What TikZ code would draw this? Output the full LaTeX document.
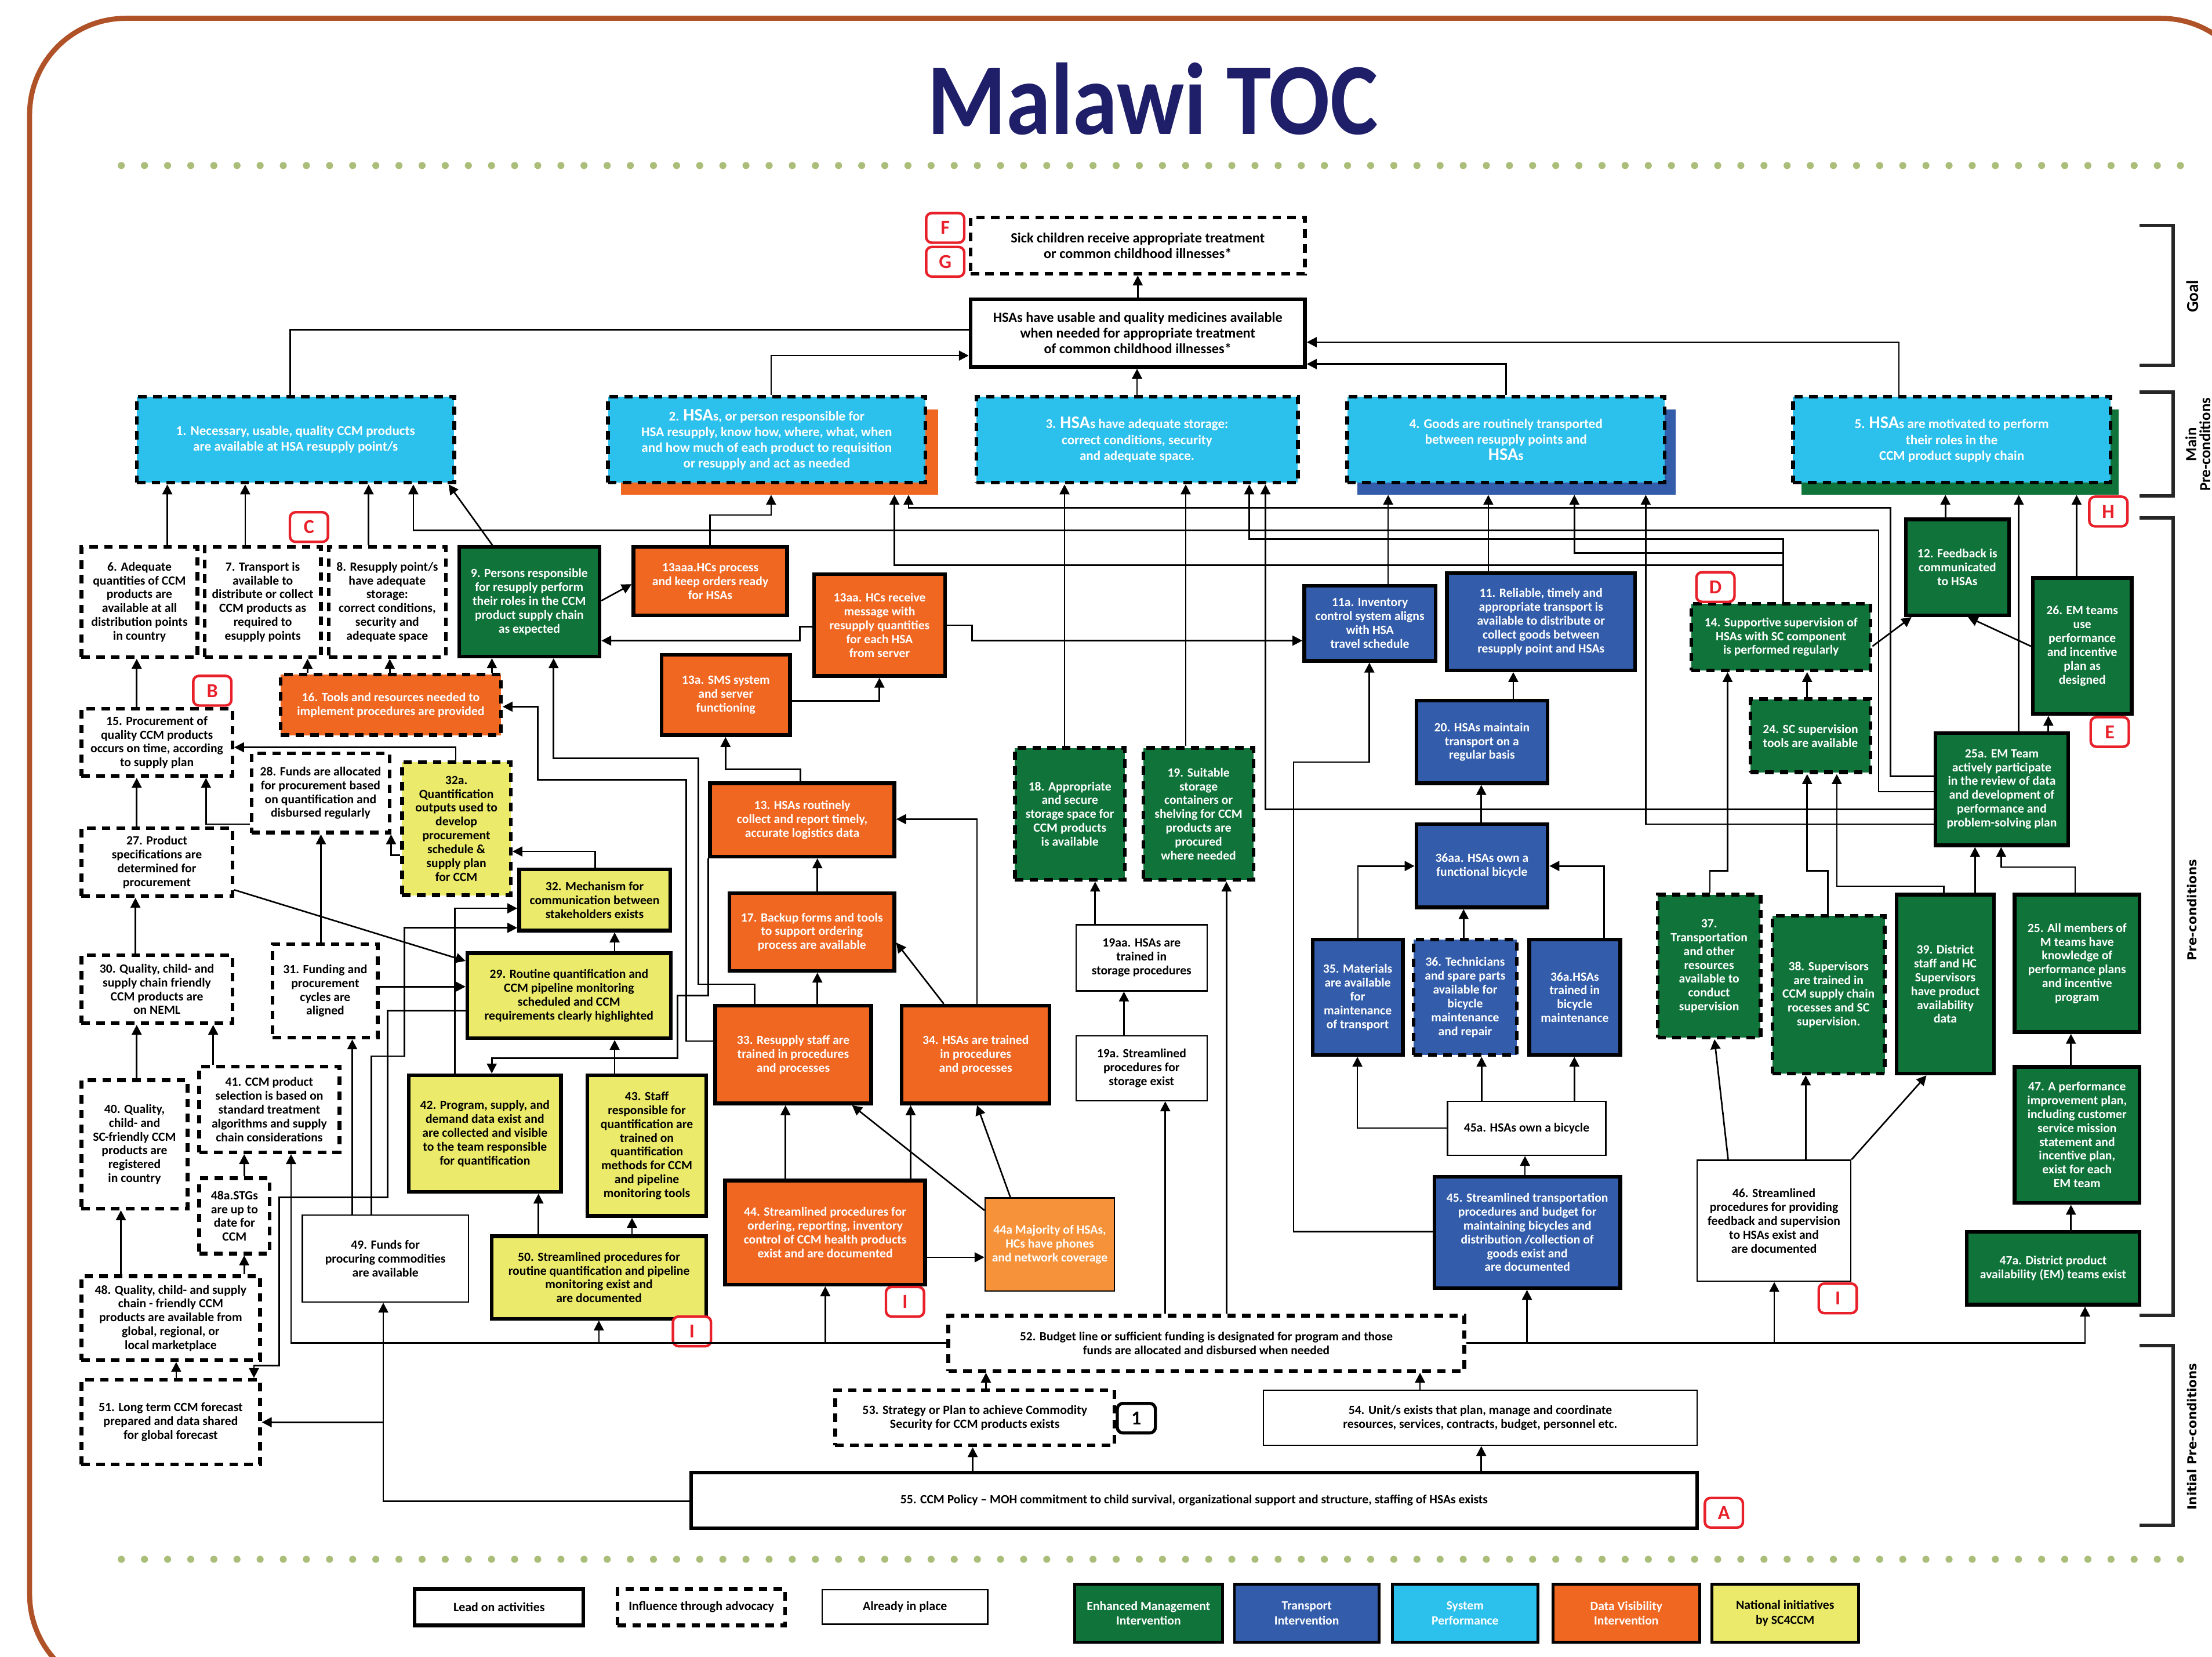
\documentclass[tikz,border=0pt]{standalone}
\usepackage{fontspec}
\usepackage{graphicx}
\setmainfont{Carlito}
\newfontfamily\dvs{DejaVu Sans}
\usetikzlibrary{arrows.meta}
\definecolor{cgreen}{RGB}{16,115,58}
\definecolor{cblue}{RGB}{51,93,170}
\definecolor{ccyan}{RGB}{44,192,236}
\definecolor{corange}{RGB}{240,103,34}
\definecolor{cyellow}{RGB}{235,234,106}
\definecolor{clorange}{RGB}{246,146,58}
\definecolor{cred}{RGB}{232,32,42}
\definecolor{cnavy}{RGB}{30,30,105}
\definecolor{cbrown}{RGB}{176,82,40}
\definecolor{cdot}{RGB}{170,190,122}
\tikzset{
  nbox/.style={rectangle, align=center, inner sep=1pt, font=\bfseries\fontsize{8.9}{9.8}\selectfont},
  lead/.style={nbox, draw=black, line width=2.6pt},
  adv/.style={nbox, draw=black, line width=2.6pt, dash pattern=on 6pt off 4.5pt},
  inpl/.style={nbox, draw=black, line width=1pt},
  gr/.style={fill=cgreen, text=white},
  bl/.style={fill=cblue, text=white},
  cy/.style={fill=ccyan, text=white},
  og/.style={fill=corange, text=white},
  yl/.style={fill=cyellow, text=black},
  wh/.style={fill=white, text=black},
  lo/.style={fill=clorange, text=white},
  arr/.style={line width=1.1pt, -{Triangle[width=7pt,length=7pt]}},
  ln/.style={line width=1.1pt},
  lbl/.style={draw=cred, line width=1.8pt, rounded corners=4pt, fill=white, text=cred, font=\bfseries\fontsize{14}{14}\selectfont, inner sep=0pt, minimum width=27pt, minimum height=21pt},
  brk/.style={line width=2.4pt, black!85},
}
\newcommand\bx[7]{%
  \pgfmathsetmacro\bxw{#5-#3}%
  \pgfmathsetmacro\bxh{#6-#4}%
  \pgfmathsetmacro\bxx{(#3+#5)/2}%
  \pgfmathsetmacro\bxy{(#4+#6)/2}%
  \node[#2, minimum width=\bxw pt, minimum height=\bxh pt] (#1) at (\bxx,\bxy) {#7};}
\newcommand\varr[3]{\draw[arr] (#1.north -| #3,0) -- (#2.south -| #3,0);}
\newcommand\hsa{{\fontsize{12.5}{12}\selectfont HSA}s}
\def\mf{\bfseries\fontsize{9.5}{11.2}\selectfont}
\def\gf{\bfseries\fontsize{10}{11}\selectfont}
\begin{document}
\begin{tikzpicture}[x=1pt,y=-1pt]
\useasboundingbox (0,0) rectangle (1568,1174);
\begin{scope}
\clip (0,0) rectangle (1568,1174);
\draw[cbrown, line width=3.6pt, rounded corners=68pt] (21,13) rectangle (1600,1198);
\end{scope}
\node[font=\bfseries\fontsize{64}{64}\selectfont, text=cnavy, inner sep=0pt] (title) at (817,70) {\scalebox{1}[1.13]{Malawi TOC}};
\draw[cdot, line width=5pt, line cap=round, dash pattern=on 0pt off 16.4pt] (86,117.3) -- (1552,117.3);
\draw[cdot, line width=5pt, line cap=round, dash pattern=on 0pt off 16.4pt] (86,1105) -- (1552,1105);
% brackets
\draw[brk] (1516.4,159.7) -- (1540.6,159.7) -- (1540.6,259) -- (1516.4,259);
\draw[brk] (1516.4,277.7) -- (1540.6,277.7) -- (1540.6,351.5) -- (1516.4,351.5);
\draw[brk] (1516.4,367) -- (1540.6,367) -- (1540.6,932) -- (1516.4,932);
\draw[brk] (1516.4,953.5) -- (1540.6,953.5) -- (1540.6,1081) -- (1516.4,1081);
\node[rotate=90, font=\bfseries\fontsize{12}{12}\selectfont] (tGoal) at (1554,210) {Goal};
\node[rotate=90, align=center, font=\bfseries\fontsize{11}{10}\selectfont] (tMain) at (1558,315) {Main\\Pre-conditions};
\node[rotate=90, font=\dvs\bfseries\fontsize{8.8}{9}\selectfont] (tPre) at (1554,645) {Pre-conditions};
\node[rotate=90, font=\dvs\bfseries\fontsize{8.8}{9}\selectfont] (tIni) at (1554,1018) {Initial Pre-conditions};
% goal
\bx{G0}{adv,wh,font=\gf}{688}{154}{925}{194}{Sick children receive appropriate treatment\\or common childhood illnesses*}
\bx{G1}{lead,wh,font=\gf}{688}{212}{925}{260}{HSAs have usable and quality medicines available\\when needed for appropriate treatment\\of common childhood illnesses*}
% main
\bx{M2s}{fill=corange}{440}{290}{665}{350.5}{}
\bx{M4s}{fill=cblue}{962}{290}{1188}{350.5}{}
\bx{M5s}{fill=cgreen}{1277}{290}{1502}{350.5}{}
\bx{M1}{adv,cy,font=\mf}{97}{281}{322}{342}{1. Necessary, usable, quality CCM products\\are available at HSA resupply point/s}
\bx{M2}{adv,cy,font=\mf}{431}{281}{656}{342}{2. \hsa, or person responsible for\\HSA resupply,  know how, where, what, when\\and how much of each product to requisition\\or  resupply and act as needed}
\bx{M3}{adv,cy,font=\mf}{692}{281}{920}{342}{3. \hsa\ have adequate storage:\\correct conditions, security\\and adequate space.}
\bx{M4}{adv,cy,font=\mf}{955}{281}{1180}{342}{4. Goods are routinely transported\\between resupply points and\\{\fontsize{12.5}{12}\selectfont HSA}s}
\bx{M5}{adv,cy,font=\mf}{1271}{281}{1496}{342}{5. \hsa\ are motivated to perform\\their roles  in the\\CCM product supply chain}
% preconditions
\bx{n6}{adv,wh}{57.7}{387.6}{140}{465.6}{6. Adequate\\quantities of CCM\\products are\\available at all\\distribution points\\in country}
\bx{n7}{adv,wh}{145}{387.6}{227.5}{465.6}{7. Transport is\\available to\\distribute or collect\\CCM products as\\required to\\esupply points}
\bx{n8}{adv,wh}{233}{387.6}{316}{465.6}{8. Resupply point/s\\have adequate\\storage:\\correct conditions,\\security and\\adequate space}
\bx{n9}{lead,gr}{325.4}{387.6}{425}{465.2}{9. Persons responsible\\for resupply perform\\their roles in the CCM\\product supply chain\\as expected}
\bx{n13aaa}{lead,og}{449}{387.6}{558}{436.2}{13aaa.HCs process\\and keep orders ready\\for HSAs}
\bx{n13aa}{lead,og}{577}{407}{670}{479}{13aa. HCs receive\\message with\\resupply quantities\\for each HSA\\from server}
\bx{n13a}{lead,og}{469}{464}{560}{521}{13a. SMS system\\and server\\functioning}
\bx{n11a}{lead,bl}{924.5}{415}{1017.6}{468.3}{11a. Inventory\\control system aligns\\with HSA\\travel schedule}
\bx{n11}{lead,bl}{1025.7}{406}{1159}{475}{11. Reliable, timely and\\appropriate  transport is\\available to distribute or\\collect goods between\\resupply point and HSAs}
\bx{n14}{adv,gr}{1199}{427.8}{1326}{475}{14. Supportive supervision of\\HSAs with SC component\\is performed regularly}
\bx{n12}{lead,gr}{1351}{368}{1424}{436}{12. Feedback  is\\communicated\\to HSAs}
\bx{n26}{lead,gr}{1441}{409.6}{1511}{506}{26. EM teams\\use\\performance\\and incentive\\plan as\\designed}
\bx{n16}{adv,og}{199}{478}{355}{521}{16. Tools and resources needed to\\implement procedures are provided}
\bx{n15}{adv,wh}{57.7}{502.3}{164.7}{550}{15. Procurement of\\quality CCM products\\occurs on time, according\\to supply plan}
\bx{n28}{adv,wh}{178.3}{534}{276.2}{590}{28. Funds are allocated\\for procurement based\\on quantification and\\disbursed regularly}
\bx{n32a}{adv,yl}{285}{540}{362}{634.4}{32a.\\Quantification\\outputs used to\\develop\\procurement\\schedule \&\\supply plan\\for CCM}
\bx{n27}{adv,wh}{57.7}{587}{164.7}{635}{27. Product\\specifications are\\determined for\\procurement}
\bx{n32}{lead,yl}{368}{616}{475}{659.5}{32. Mechanism for\\communication between\\stakeholders exists}
\bx{n13}{lead,og}{503.3}{555}{634}{607}{13. HSAs routinely\\collect and report timely,\\accurate logistics data}
\bx{n17}{lead,og}{517}{633}{634}{688}{17. Backup forms and tools\\to support ordering\\process are available}
\bx{n18}{adv,gr}{719.4}{530}{797.4}{623.5}{18. Appropriate\\and secure\\storage space for\\CCM products\\is available}
\bx{n19}{adv,gr}{810.6}{530}{888.6}{623.5}{19. Suitable\\storage\\containers or\\shelving for CCM\\products are\\procured\\where needed}
\bx{n20}{lead,bl}{1004}{496.6}{1097}{555}{20. HSAs maintain\\transport on a\\regular basis}
\bx{n24}{adv,gr}{1240.7}{495.5}{1326}{547.3}{24. SC supervision\\tools are available}
\bx{n25a}{lead,gr}{1372}{519.4}{1466}{599}{25a. EM Team\\actively participate\\in the review of data\\and development of\\performance and\\problem-solving plan}
\bx{n36aa}{lead,bl}{1004}{584}{1097}{643}{36aa. HSAs own a\\functional bicycle}
\bx{n30}{adv,wh}{57.7}{677}{164.7}{725}{30. Quality, child- and\\supply chain friendly\\CCM products are\\on NEML}
\bx{n31}{adv,wh}{193.3}{669}{267.8}{735.3}{31. Funding and\\procurement\\cycles are\\aligned}
\bx{n29}{lead,yl}{331.3}{675.5}{475.4}{735.7}{29. Routine quantification and\\CCM pipeline monitoring\\scheduled and CCM\\requirements clearly highlighted}
\bx{n19aa}{inpl,wh}{762.8}{655.4}{855.6}{702.2}{19aa. HSAs are\\trained in\\storage procedures}
\bx{n19a}{inpl,wh}{762.8}{734}{855.6}{780}{19a. Streamlined\\procedures for\\storage exist}
\bx{n33}{lead,og}{507}{712.7}{617.5}{782}{33. Resupply staff are\\trained in procedures\\and processes}
\bx{n34}{lead,og}{639.2}{712.7}{744}{782}{34. HSAs are trained\\in procedures\\and processes}
\bx{n35}{lead,bl}{930.4}{665.9}{994.4}{747.6}{35. Materials\\are available\\for\\maintenance\\of  transport}
\bx{n36}{adv,bl}{1002}{665.9}{1075.2}{747.6}{36. Technicians\\and spare parts\\available for\\bicycle\\maintenance\\and repair}
\bx{n36a}{lead,bl}{1084}{665.9}{1148.5}{747.6}{36a.HSAs\\trained in\\bicycle\\maintenance}
\bx{n37}{adv,gr}{1175}{634}{1248}{735.2}{37.\\Transportation\\and other\\resources\\available to\\conduct\\supervision}
\bx{n38}{adv,gr}{1256.4}{649}{1336}{760.8}{38. Supervisors\\are trained in\\CCM supply chain\\rocesses and SC\\supervision.}
\bx{n39}{lead,gr}{1344.5}{634}{1413.4}{760.8}{39. District\\staff and HC\\Supervisors\\have product\\availability\\data}
\bx{n25}{lead,gr}{1428}{634}{1516.7}{731.4}{25. All members of\\M teams have\\knowledge of\\performance plans\\and incentive\\program}
\bx{n47}{lead,gr}{1428}{756}{1516.7}{852.5}{47. A performance\\improvement plan,\\including customer\\service mission\\statement and\\incentive plan,\\exist for each\\EM team}
\bx{n47a}{lead,gr}{1394}{873}{1516.7}{924.6}{47a. District product\\availability (EM) teams exist}
\bx{n40}{adv,wh}{57.7}{765.5}{133}{856.4}{40. Quality,\\child- and\\SC-friendly CCM\\products are\\registered\\in country}
\bx{n41}{adv,wh}{141.2}{755.8}{240.6}{816.6}{41. CCM product\\selection is based on\\standard treatment\\algorithms and supply\\chain considerations}
\bx{n48a}{adv,wh}{141.2}{835}{191.2}{888.4}{48a.STGs\\are up to\\date for\\CCM}
\bx{n42}{lead,yl}{289.8}{762}{397.7}{844.6}{42. Program, supply, and\\demand data exist and\\are collected and visible\\to the team responsible\\for quantification}
\bx{n43}{lead,yl}{416.3}{762}{500.7}{861.7}{43. Staff\\responsible for\\quantification  are\\trained on\\quantification\\methods for CCM\\and pipeline\\monitoring tools}
\bx{n48}{adv,wh}{57.7}{904.4}{184.3}{963.9}{48. Quality, child- and supply\\chain - friendly CCM\\products are available from\\global, regional, or\\local marketplace}
\bx{n49}{inpl,wh}{214.4}{861.1}{332}{922.7}{49. Funds for\\procuring commodities\\are available}
\bx{n50}{lead,yl}{348.5}{876}{500.7}{934.5}{50. Streamlined procedures for\\routine quantification and pipeline\\monitoring exist and\\are documented}
\bx{n44}{lead,og}{514}{836.6}{655.8}{910.3}{44. Streamlined procedures for\\ordering, reporting, inventory\\control of CCM health products\\exist and are documented}
\bx{n44a}{inpl,lo}{698.3}{849}{790}{915}{44a Majority of HSAs,\\HCs have phones\\and network coverage}
\bx{n45a}{inpl,wh}{1026}{780.4}{1138.3}{818.7}{45a. HSAs own a bicycle}
\bx{n45}{lead,bl}{1016.8}{833.8}{1148.5}{912.8}{45. Streamlined transportation\\procedures  and budget for\\maintaining bicycles and\\distribution /collection of\\goods exist and\\are documented}
\bx{n46}{inpl,wh}{1203}{822.2}{1312}{908}{46. Streamlined\\procedures for providing\\feedback and supervision\\to HSAs exist and\\are documented}
\bx{n51}{adv,wh}{57.7}{977.8}{184.3}{1037.8}{51. Long term CCM forecast\\prepared and data shared\\for global forecast}
\bx{n52}{adv,wh,font=\bfseries\fontsize{8.8}{9.8}\selectfont}{672.2}{932.4}{1038}{971.5}{52. Budget line or sufficient funding is designated for program and those\\funds are allocated and disbursed when needed}
\bx{n53}{adv,wh,font=\bfseries\fontsize{9}{9.8}\selectfont}{592}{985.2}{790}{1024.3}{53. Strategy or Plan to achieve Commodity\\Security for CCM products exists}
\bx{n54}{inpl,wh,font=\bfseries\fontsize{8.9}{9.8}\selectfont}{895.5}{985.2}{1203}{1024.3}{54. Unit/s exists that plan, manage and coordinate\\resources, services, contracts, budget, personnel etc.}
\bx{n55}{lead,wh,font=\bfseries\fontsize{8.9}{9.8}\selectfont}{489.8}{1043.6}{1203}{1083}{55. CCM Policy -- MOH commitment to child survival, organizational support and structure, staffing of HSAs exists}
% labels
\node[lbl] (lF) at (670,161.5) {F};
\node[lbl] (lG) at (670,185.5) {G};
\node[lbl] (lC) at (219,373.5) {C};
\node[lbl] (lB) at (150.5,489.5) {B};
\node[lbl] (lD) at (1216,416) {D};
\node[lbl] (lE) at (1495.5,518.7) {E};
\node[lbl] (lH) at (1494.5,362.5) {H};
\node[lbl] (lA) at (1222,1072) {A};
\node[lbl] (lI1) at (490.5,943.5) {I};
\node[lbl] (lI2) at (641.5,922.5) {I};
\node[lbl] (lI3) at (1302.7,920.1) {I};
\node[lbl, draw=black, text=black, line width=2.2pt] (l1) at (805.5,1005) {1};
% legend
\bx{L1}{lead,wh,font=\bfseries\fontsize{9}{9}\selectfont}{294}{1126}{413.6}{1151.8}{Lead on activities}
\bx{L2}{adv,wh,font=\bfseries\fontsize{9}{9}\selectfont}{437.7}{1126}{556.6}{1151.8}{Influence through advocacy}
\bx{L3}{inpl,wh,font=\bfseries\fontsize{9}{9}\selectfont}{582.8}{1126.5}{700.2}{1151}{Already in place}
\bx{L4}{lead,gr,line width=2pt,font=\bfseries\fontsize{8.9}{10.4}\selectfont}{761.8}{1122.8}{866.5}{1163.6}{Enhanced Management\\Intervention}
\bx{L5}{lead,bl,line width=2pt,font=\bfseries\fontsize{8.9}{10.4}\selectfont}{875}{1122.8}{977.6}{1163.6}{Transport\\Intervention}
\bx{L6}{lead,cy,line width=2pt,font=\bfseries\fontsize{8.9}{10.4}\selectfont}{986.9}{1122.8}{1090.2}{1163.6}{System\\Performance}
\bx{L7}{lead,og,line width=2pt,font=\bfseries\fontsize{8.9}{10.4}\selectfont}{1100.8}{1122.8}{1204.8}{1163.6}{Data Visibility\\Intervention}
\bx{L8}{lead,yl,line width=2pt,font=\bfseries\fontsize{8.9}{10.4}\selectfont}{1213.4}{1122.8}{1317.4}{1163.6}{National initiatives\\by SC4CCM}
% ---------- connectors ----------
\draw[arr] (G1.north) -- (G0.south);
\draw[arr] (M3.north) -- (M3.north |- G1.south);
\draw[ln] (M1.north -| 205.6,0) |- (G1.west |- 0,233.6);
\draw[arr] (M2.north -| 546.6,0) |- (G1.west |- 0,252);
\draw[arr] (M4.north -| 1067.6,0) |- (G1.east |- 0,258);
\draw[arr] (M5.north -| 1346,0) |- (G1.east |- 0,242.5);
% into M1
\varr{n6}{M1}{118.6}
\varr{n7}{M1}{173.8}
\varr{n8}{M1}{261.3}
\draw[arr] (n9.north -| 349,0) -- (M1.south -| 318,0);
\draw[arr] (n25a.west |- 0,561) -| (1331.7,376) -| (M1.south -| 293,0);
% into M2
\draw[arr] (n13aaa.north -| 503.3,0) |- (546.6,365) -- (M2s.south -| 546.6,0);
\draw[arr] (n14.north -| 1264,0) |- (634,400.6) -- (M2s.south -| 634,0);
\draw[arr] (n25a.west |- 0,550) -| (1340,359.7) -| (M2s.south -| 644,0);
% into M3
\varr{n18}{M3}{754.6}
\varr{n19}{M3}{840.5}
\draw[arr] (n14.north -| 1264,0) |- (885.5,382) -- (M3.south -| 885.5,0);
\draw[arr] (n25a.west |- 0,573.5) -| (M3.south -| 897,0);
% into M4
\varr{n11a}{M4s}{984}
\varr{n11}{M4s}{1055}
\draw[arr] (n14.north -| 1264,0) |- (1116,392) -- (M4s.south -| 1116,0);
\draw[arr] (n25a.west |- 0,584) -| (M4s.south -| 1166.6,0);
% into M5
\varr{n12}{M5s}{1379}
\varr{n25a}{M5s}{1431}
\varr{n26}{M5s}{1472}
% level 3 and below
\draw[arr] (n9.east |- 0,425.7) -- (n13aaa.west |- 0,414);
\draw[arr] (n13aa.west |- 0,444) -| (567,454) -- (n9.east |- 0,454);
\draw[arr] (n13aa.east |- 0,443) -| (689,454) -- (n11a.west |- 0,454);
\draw[arr] (n13a.east |- 0,496.6) -| (n13aa.south -| 623.4,0);
\draw[arr] (n13.north -| 567.5,0) |- (514.3,545.3) -- (n13a.south -| 514.3,0);
\varr{n17}{n13}{579.4}
\draw[arr] (n34.north -| 692.6,0) |- (n13.east |- 0,580.5);
\draw[arr] (n34.north -| 669,0) -- (n17.east |- 0,668);
\varr{n33}{n17}{579.4}
\draw[arr] (n33.north -| 535,0) |- (495,697.5) |- (392.4,537.5) -- (n9.south -| 392.4,0);
\draw[arr] (n33.west |- 0,737.8) -| (486.5,552.6) -| (381.3,500.8) -- (n16.east |- 0,500.8);
\draw[arr] (n13.south west) -- (n13.south west |- 0,705.6) -| (480.2,750) -| (n42.north -| 348.6,0);
\varr{n43}{n29}{435.7}
\varr{n29}{n32}{435.7}
\draw[arr] (n32.north -| 421.8,0) |- (n32a.east |- 0,603.4);
\draw[arr] (n32a.west |- 0,606) -| (n28.south -| 277.2,0);
\draw[arr] (n32a.north -| 323,0) |- (n15.east |- 0,529.6);
\draw[arr] (n28.west |- 0,584) -| (n15.south -| 146,0);
\varr{n27}{n15}{96.9}
\varr{n15}{n6}{96.9}
\varr{n16}{n7}{218}
\varr{n16}{n8}{276.3}
\varr{n16}{n9}{348.7}
\varr{n31}{n28}{227.5}
\varr{n30}{n27}{96}
\draw[arr] (n27.east |- 0,630.6) -- (n29.west |- 0,681);
\draw[arr] (n31.east |- 0,699.2) -- (n29.west |- 0,699.2);
\draw[arr] (n29.west |- 0,716.2) -| (274.7,848.6) -| (197.8,967.8) -| (n51.north -| 180,0);
\varr{n49}{n31}{249.7}
\draw[arr] (n49.north -| 263.2,0) |- (286.7,748.4) |- (n32.west |- 0,657.5);
\draw[arr] (n42.north -| 322.5,0) |- (n32.west |- 0,643.7);
\varr{n40}{n30}{96.9}
\varr{n41}{n30}{151.1}
\varr{n48}{n40}{85.7}
\varr{n48}{n48a}{173.1}
\varr{n48a}{n41}{173.1}
\varr{n51}{n48}{124.9}
\draw[arr] (n52.west |- 0,951.6) -| (n41.south -| 206.3,0);
\draw[arr] (n52.west |- 0,951.6) -| (n50.south -| 424.5,0);
\draw[arr] (n52.west |- 0,951.6) -| (n44.south -| 585,0);
\draw[arr] (n55.west |- 0,1064) -| (n49.south -| 271.7,0);
\coordinate (j51) at (271.7,1007.9);
\draw[arr] (j51) -- (n51.east |- j51);
\varr{n50}{n42}{381.7}
\varr{n50}{n43}{448}
\varr{n44}{n33}{556.8}
\varr{n44}{n34}{645.5}
\draw[arr] (n44.east |- 0,891) -- (n44a.west |- 0,891);
\draw[arr] (n44a.west |- 0,857.7) -- (n33.south -| 604,0);
\draw[arr] (n44a.north -| 716.2,0) -- (n34.south -| 692.6,0);
\varr{n19aa}{n18}{776.3}
\varr{n19a}{n19aa}{796.7}
\varr{n52}{n19a}{826}
\varr{n52}{n19}{869.4}
\varr{n53}{n52}{698.9}
\varr{n55}{n53}{689.5}
\varr{n54}{n52}{1006.6}
\varr{n55}{n54}{1050}
\draw[arr] (n52.east |- 0,951.6) -| (n45.south -| 1082.4,0);
\draw[arr] (n52.east |- 0,951.6) -| (n46.south -| 1257.7,0);
\draw[arr] (n52.east |- 0,951.6) -| (n47a.south -| 1478,0);
\varr{n45}{n45a}{1081}
\draw[arr] (n45a.west |- 0,799.4) -| (n35.south -| 962.2,0);
\varr{n45a}{n36}{1050.2}
\varr{n45a}{n36a}{1116}
\draw[arr] (n35.north -| 962.6,0) |- (n36aa.west |- 0,613.7);
\varr{n36}{n36aa}{1037.5}
\draw[arr] (n36a.north -| 1137,0) |- (n36aa.east |- 0,613.7);
\varr{n36aa}{n20}{1050}
\varr{n20}{n11}{1072.7}
\draw[arr] (n45.west |- 0,872.9) -| (916.9,540) -| (n11a.south -| 970.7,0);
\draw[arr] (n46.north -| 1225,0) -- (n37.south -| 1215.3,0);
\varr{n46}{n38}{1280}
\draw[arr] (n46.north east) -- (n39.south -| 1365.6,0);
\draw[arr] (n37.north -| 1212,0) |- (1224.6,617) -- (n14.south -| 1224.6,0);
\varr{n24}{n14}{1281}
\draw[arr] (n38.north -| 1295.7,0) |- (1281,617) -- (n24.south -| 1281,0);
\draw[arr] (n39.north -| 1378,0) |- (1302,628) -- (n24.south -| 1302,0);
\varr{n39}{n25a}{1400}
\draw[arr] (n25.north -| 1471,0) |- (1418.5,614.4) -- (n25a.south -| 1418.5,0);
\varr{n47}{n25}{1468}
\varr{n47a}{n47}{1468}
\varr{n25a}{n26}{1452}
\draw[arr] (n26.west |- 0,458) -- (n12.south -| 1395,0);
\draw[arr] (n14.east |- 0,458) -- (n12.south -| 1355,0);
\end{tikzpicture}
\end{document}
